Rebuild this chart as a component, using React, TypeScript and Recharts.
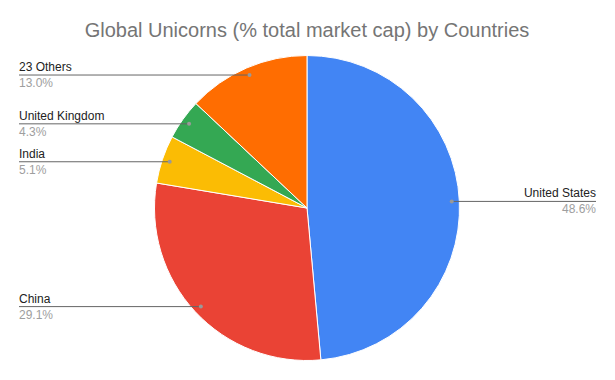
import { Cell, Pie, PieChart } from 'recharts';

const countries = ['United States', 'China', 'India', 'United Kingdom', '23 Others'];
const shares = [48.6, 29.1, 5.1, 4.3, 13.0];
const sliceColors = ['#4285F4', '#EA4335', '#FBBC04', '#34A853', '#FF6D01'];

const data = countries.map((name, i) => ({ name, value: shares[i] }));

const RAD = Math.PI / 180;
const LEFT_X = 19;
const RIGHT_X = 596;
const FONT = 'Arial, "Liberation Sans", sans-serif';

interface LabelProps {
    cx: number;
    cy: number;
    midAngle: number;
    outerRadius: number;
    name: string;
    value: number;
}

function SliceLabel({ cx, cy, midAngle, outerRadius, name, value }: LabelProps) {
    const r = outerRadius * 0.95;
    const dx = cx + r * Math.cos(-midAngle * RAD);
    const dy = cy + r * Math.sin(-midAngle * RAD);
    const left = dx < cx;
    const endX = left ? LEFT_X : RIGHT_X;
    const anchor = left ? 'start' : 'end';

    return (
        <g>
            <line x1={endX} y1={dy} x2={dx} y2={dy} stroke="#666666" strokeWidth={1} />
            <circle cx={dx} cy={dy} r={2} fill="#999999" />
            <text x={endX} y={dy - 4} textAnchor={anchor} fontSize={12} fontFamily={FONT} fill="#222222">
                {name}
            </text>
            <text x={endX} y={dy + 12} textAnchor={anchor} fontSize={12} fontFamily={FONT} fill="#9e9e9e">
                {value.toFixed(1)}%
            </text>
        </g>
    );
}

export default function App() {
    return (
        <div style={{ position: 'absolute', left: 0, top: 0, width: 615, height: 380, background: '#fff' }}>
            <svg width={615} height={50} style={{ position: 'absolute', left: 0, top: 0 }}>
                <text x={307} y={37} textAnchor="middle" fontSize={20} fontFamily={FONT} fill="#757575">
                    Global Unicorns (% total market cap) by Countries
                </text>
            </svg>
            <PieChart width={615} height={380} margin={{ top: 0, right: 0, bottom: 0, left: 0 }}>
                <Pie
                    data={data}
                    dataKey="value"
                    nameKey="name"
                    cx={307}
                    cy={208}
                    outerRadius={152.5}
                    startAngle={90}
                    endAngle={-270}
                    stroke="#ffffff"
                    strokeWidth={1}
                    labelLine={false}
                    label={(props: any) => <SliceLabel {...props} />}
                    isAnimationActive={false}
                >
                    {data.map((d, i) => (
                        <Cell key={d.name} fill={sliceColors[i]} />
                    ))}
                </Pie>
            </PieChart>
        </div>
    );
}
